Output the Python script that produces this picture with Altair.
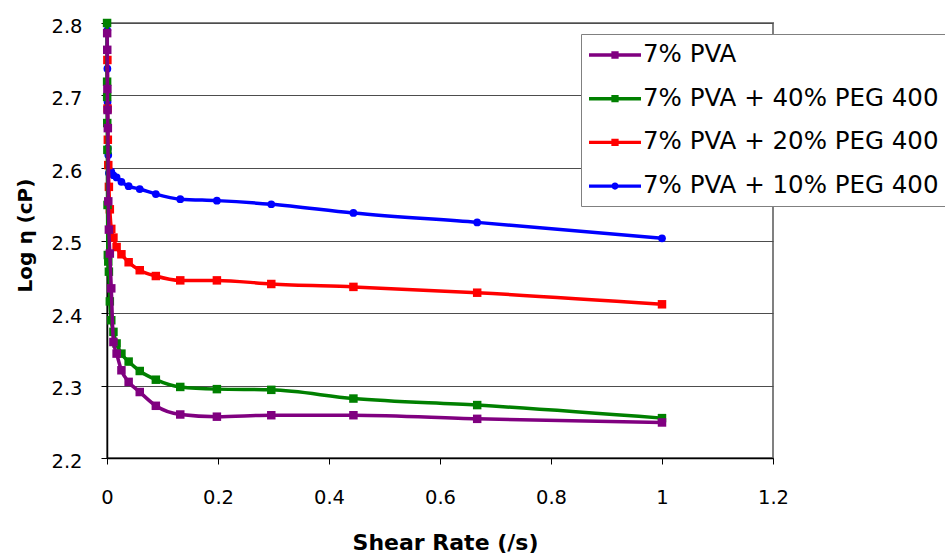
import altair as alt
import pandas as pd

# Shear rates (/s) shared by the four formulations, highest first
shear_rate = [1.0, 0.667, 0.444, 0.296, 0.198, 0.132, 0.088, 0.059, 0.039, 0.026,
              0.0173, 0.0116, 0.0077, 0.0051, 0.0034, 0.0023, 0.0015, 0.001,
              0.0007, 0.00045, 0.0003, 0.0002, 0.00013]

# Log viscosity (cP) for each formulation, in the same shear-rate order
log_eta_pva = [2.249, 2.254, 2.259, 2.259, 2.257, 2.260, 2.272, 2.291, 2.305, 2.321,
               2.344, 2.360, 2.434, 2.482, 2.515, 2.554, 2.655, 2.680, 2.709, 2.763,
               2.786]
log_eta_peg40 = [2.255, 2.273, 2.282, 2.294, 2.295, 2.298, 2.308, 2.320, 2.333, 2.344,
                 2.358, 2.374, 2.390, 2.416, 2.457, 2.471, 2.480, 2.549, 2.625, 2.662,
                 2.698, 2.719, 2.800]
log_eta_peg20 = [2.412, 2.428, 2.436, 2.440, 2.445, 2.445, 2.451, 2.459, 2.470, 2.481,
                 2.491, 2.504, 2.516, 2.543, 2.574, 2.604, 2.639, 2.682, 2.749]
log_eta_peg10 = [2.503, 2.525, 2.538, 2.550, 2.555, 2.557, 2.564, 2.571, 2.575, 2.581,
                 2.587, 2.590, 2.595, 2.596, 2.593, 2.618, 2.627, 2.691, 2.737, 2.790]

series_names = ["7% PVA", "7% PVA + 40% PEG 400",
                "7% PVA + 20% PEG 400", "7% PVA + 10% PEG 400"]
series_colors = ["#800080", "#008000", "#FF0000", "#0000FF"]
series_values = [log_eta_pva, log_eta_peg40, log_eta_peg20, log_eta_peg10]
series_markers = ["square", "square", "square", "circle"]

rows = []
for name, vals in zip(series_names, series_values):
    for x, y in zip(shear_rate, vals):
        rows.append({"series": name, "shear": x, "log_eta": y})
df = pd.DataFrame(rows)

FONT = "DejaVu Sans"

color_scale = alt.Scale(domain=series_names, range=series_colors)
x_enc = alt.X(
    "shear:Q",
    scale=alt.Scale(domain=[0, 1.2], nice=False, zero=False),
    axis=alt.Axis(
        values=[0, 0.2, 0.4, 0.6, 0.8, 1.0, 1.2], format="~g", grid=False,
        labelFlush=False,
        tickSize=6, tickColor="#000000", domainColor="#000000", domainWidth=1.5,
        labelFont=FONT, labelFontSize=19.5, labelColor="#000000", labelPadding=24,
        title="Shear Rate (/s)", titleFont=FONT, titleFontSize=22,
        titleFontWeight="bold", titleColor="#000000",
        titleX=338, titleY=91, titleBaseline="alphabetic",
    ),
)
y_enc = alt.Y(
    "log_eta:Q",
    scale=alt.Scale(domain=[2.2, 2.8], nice=False, zero=False),
    axis=alt.Axis(
        values=[2.2, 2.3, 2.4, 2.5, 2.6, 2.7, 2.8], format=".1f",
        grid=True, gridColor="#4d4d4d", gridWidth=1.2,
        tickSize=6, tickColor="#000000", domainColor="#000000", domainWidth=1.5,
        labelFont=FONT, labelFontSize=19.5, labelColor="#000000", labelPadding=19,
        labelOffset=3,
        title="Log η (cP)", titleFont=FONT, titleFontSize=20,
        titleFontWeight="bold", titleColor="#000000",
        titleX=-82, titleY=212, titleBaseline="middle",
    ),
)

# Legend glyphs: a short line with the series marker in its middle
sq_glyph = "M-2,-0.13H2V0.13H-2Z M-0.28,-0.28H0.28V0.28H-0.28Z"
ci_glyph = ("M-2,-0.13H2V0.13H-2Z "
            "M-0.28,0A0.28,0.28 0 1,1 0.28,0A0.28,0.28 0 1,1 -0.28,0Z")
legend_glyphs = [sq_glyph, sq_glyph, sq_glyph, ci_glyph]

legend = alt.Legend(
    orient="none", legendX=474, legendY=11, title=None,
    labelFont=FONT, labelFontSize=24.5, labelColor="#000000", labelLimit=0,
    symbolSize=676, symbolStrokeWidth=0, symbolOffset=13, labelOffset=15,
    rowPadding=18.7, padding=8, strokeColor="#808080", fillColor="#ffffff",
)

# The legend layer carries no marks; it comes first so its legend wins the merge
legend_layer = alt.Chart(df).transform_filter("false").mark_point(
    filled=True, opacity=1, size=676
).encode(
    color=alt.Color("series:N", scale=color_scale, legend=legend),
    shape=alt.Shape("series:N",
                    scale=alt.Scale(domain=series_names, range=legend_glyphs),
                    legend=legend),
)
layers = [legend_layer]

# draw blue first and purple last, so purple sits on top
for name, marker in reversed(list(zip(series_names, series_markers))):
    base = alt.Chart(df).transform_filter(alt.datum.series == name)
    line = base.mark_line(strokeWidth=3.5, interpolate="monotone").encode(
        x=x_enc, y=y_enc,
        color=alt.Color("series:N", scale=color_scale, legend=None),
        order=alt.Order("shear:Q"),
    )
    if marker == "circle":
        pts = base.mark_circle(size=60, opacity=1)
    else:
        pts = base.mark_square(size=72, opacity=1)
    pts = pts.encode(
        x=x_enc, y=y_enc,
        color=alt.Color("series:N", scale=color_scale, legend=None),
    )
    layers += [line, pts]

chart = alt.layer(*layers).properties(
    width=666, height=435,
    autosize=alt.AutoSizeParams(type="none"),
    padding={"left": 107, "top": 23, "right": 172, "bottom": 98},
    background="#ffffff",
).configure_view(stroke="#808080", strokeWidth=2)

chart.save("out.html", embed_options={"renderer": "svg", "actions": False})
